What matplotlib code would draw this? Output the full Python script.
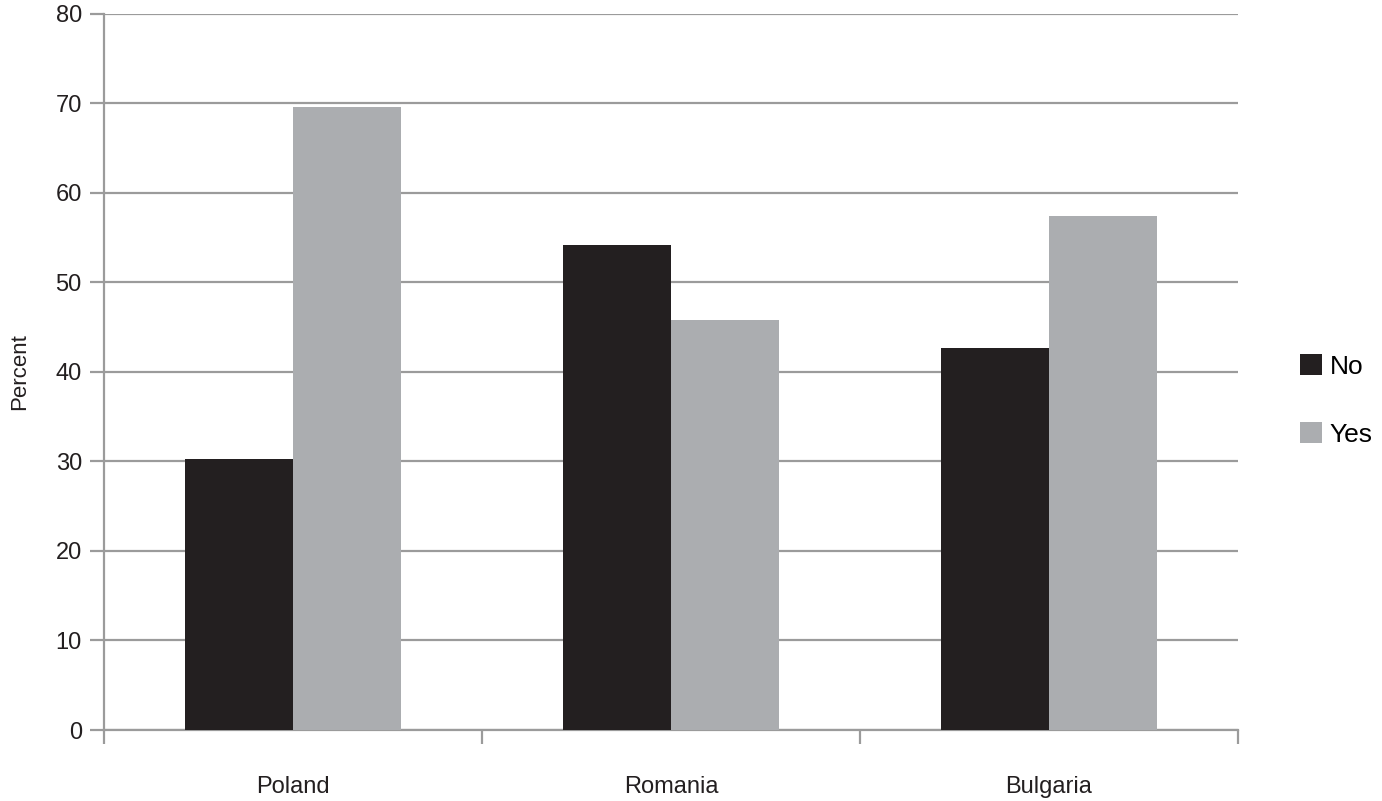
import numpy as np
import matplotlib
matplotlib.use("Agg")
import matplotlib.pyplot as plt

countries = ["Poland", "Romania", "Bulgaria"]
no_vals = [30.3, 54.2, 42.7]
yes_vals = [69.6, 45.8, 57.4]
series_labels = ["No", "Yes"]
yticks = [0, 10, 20, 30, 40, 50, 60, 70, 80]

plt.rcParams["font.family"] = ["Liberation Sans", "DejaVu Sans"]
plt.rcParams["font.size"] = 17

fig = plt.figure(figsize=(13.82, 8.01), dpi=100)
ax = fig.add_axes([0.0753, 0.0886, 0.8205, 0.8945])

grey = "#9b9b9b"
x = np.arange(len(countries))
w = 0.286
ax.bar(x - w / 2, no_vals, width=w, color="#231f20", label=series_labels[0], zorder=3)
ax.bar(x + w / 2, yes_vals, width=w, color="#abadb0", label=series_labels[1], zorder=3)

ax.set_xlim(-0.5, len(countries) - 0.5)
ax.set_ylim(0, 80)
ax.set_yticks(yticks)
ax.yaxis.grid(True, color=grey, linewidth=1.6, zorder=0)
ax.set_axisbelow(True)

# category boundaries as ticks, names as minor labels
ax.set_xticks(np.arange(len(countries) + 1) - 0.5)
ax.set_xticklabels([])
ax.set_xticks(x, minor=True)
ax.set_xticklabels(countries, minor=True)
ax.tick_params(axis="x", which="major", length=10, width=1.6, color=grey, direction="out")
ax.tick_params(axis="x", which="minor", length=0, pad=33, labelcolor="#231f20")
ax.tick_params(axis="y", length=10, width=1.6, color=grey, pad=6, labelcolor="#231f20")

for s in ["top", "right"]:
    ax.spines[s].set_visible(False)
for s in ["left", "bottom"]:
    ax.spines[s].set_color(grey)
    ax.spines[s].set_linewidth(1.6)

ax.set_ylabel("Percent", fontsize=16, labelpad=18, color="#231f20")

fig.legend(loc="center left", bbox_to_anchor=(0.9405, 0.5), frameon=False,
           fontsize=19, handlelength=0.83, handleheight=0.83, handletextpad=0.3,
           labelspacing=1.65, borderpad=0, borderaxespad=0)

fig.savefig("out.png", dpi=100)
